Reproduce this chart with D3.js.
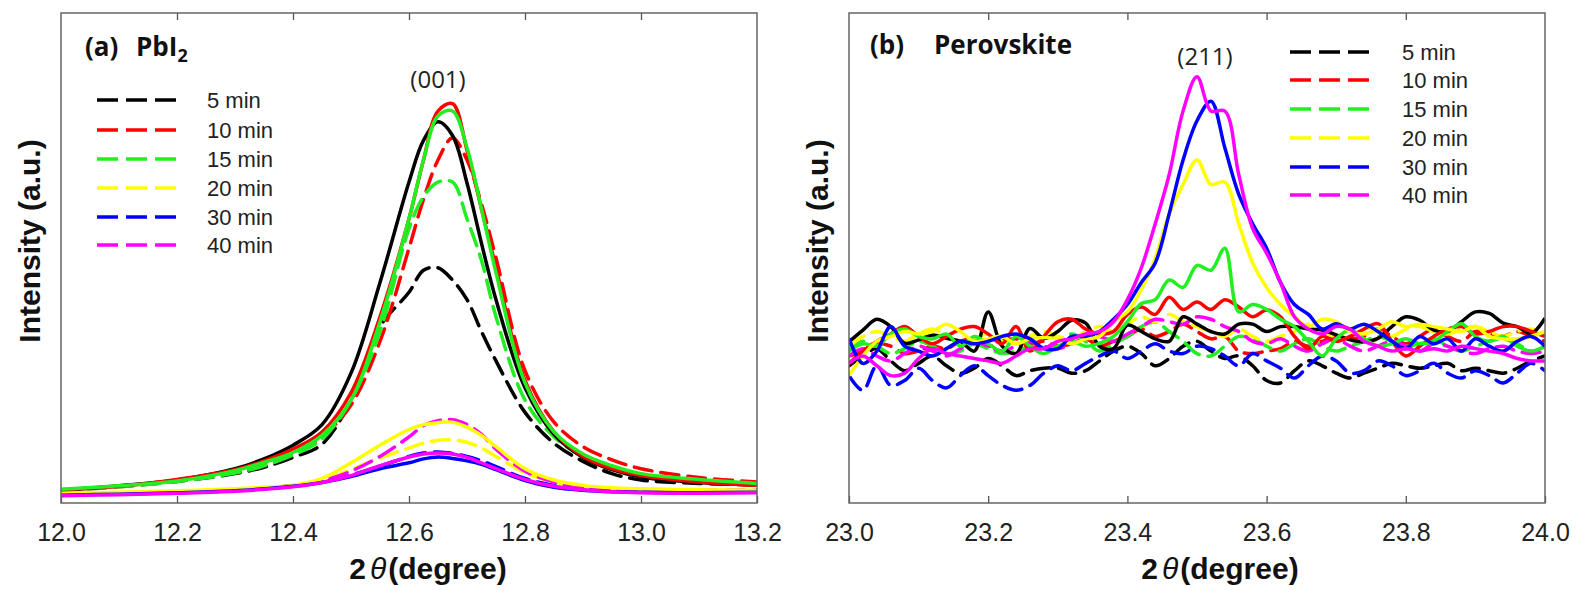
<!DOCTYPE html>
<html><head><meta charset="utf-8">
<script src="https://cdn.jsdelivr.net/npm/d3@7"></script>
<style>body{margin:0;background:#fff}svg{display:block}</style>
</head><body><svg id="c" width="1577" height="590"></svg>
<script>
// ---------- data ----------
const seriesNames  = ["5 min","10 min","15 min","20 min","30 min","40 min"];
const seriesColors = ["#000000","#ff0000","#22ee22","#ffff00","#0000ff","#ff00ff"];

// Panel (a) PbI2, 2theta grid
const pbX = [12.0,12.1,12.2,12.3,12.35,12.4,12.45,12.5,12.55,12.6,12.625,12.65,12.675,12.7,12.725,12.75,12.8,12.85,12.9,12.95,13.0,13.1,13.2];
const pbTicks = [12.0,12.2,12.4,12.6,12.8,13.0,13.2];
const pbSolid5  = [2.6,3.5,4.7,7.0,9.0,11.8,16,26.5,45,65.5,74,77.8,75,65.3,53,41.5,23.5,14,9.3,6.8,5.3,4.2,3.7];
const pbSolid10 = [2.7,3.4,4.8,6.8,8.6,11,14.5,22.5,38,58,70,80,81.5,72,60,48,25,14.5,9.5,7,5.6,4.3,3.6];
const pbSolid15 = [2.8,3.5,4.5,6.6,8.3,10.3,13.8,21,37,58,70,79,80,72.5,60,47,24.5,14.5,10,7.6,6,4.8,4.0];
const pbSolid20 = [2.0,2.2,2.5,2.9,3.2,3.6,5,8.2,11.8,15,16,16.4,16.5,15.5,13.8,11.5,7,4.7,3.6,3.1,2.9,2.7,2.6];
const pbSolid30 = [1.6,1.8,2.1,2.5,2.9,3.4,4.2,5.4,7.0,8.2,9.0,9.4,9.1,8.6,7.9,6.8,4.6,3.2,2.6,2.3,2.2,2.1,2.2];
const pbSolid40 = [1.5,1.7,2.0,2.4,2.8,3.3,4.2,5.6,7.6,9.4,10,10.2,10,9.3,8.2,7.0,4.8,3.4,2.7,2.3,2.1,2.0,2.1];
const pbDash5   = [2.6,3.4,4.4,6.0,7.3,9.3,12,21,36,43,47.5,48,45.5,41.5,35,29,18.5,12.2,8.5,6,4.7,4.0,3.7];
const pbDash10  = [2.6,3.3,4.5,6.3,8.0,10.2,13.5,20,33,52,62,70,74.5,70,61,50,27,16.5,11.5,8.8,7.0,5.2,4.3];
const pbDash15  = [2.6,3.3,4.4,6.1,7.6,9.8,13,21,35,56,62.5,65.5,65.5,58,49.5,38,21,13.5,9.5,7.2,5.8,4.5,3.9];
const pbDash20  = [1.9,2.1,2.4,2.8,3.1,3.6,4.6,6.8,9.2,11.2,12.2,12.8,12.9,12.4,11.2,9.5,6.2,4.3,3.3,2.9,2.7,2.6,2.5];
const pbDash30  = [1.8,2.0,2.3,2.7,3.0,3.5,4.3,5.7,7.5,9.5,10.2,10.4,10.1,9.5,8.6,7.4,5.0,3.6,3.0,2.7,2.4,2.3,2.4];
const pbDash40  = [1.8,2.0,2.3,2.7,3.0,3.5,4.5,6.5,9.5,13.5,15.8,16.8,17,16,14,11,6.5,4.3,3.3,2.9,2.7,2.6,2.6];

// Panel (b) Perovskite, 2theta 23.00 .. 24.00 every 0.02
const pvX = [23.00,23.02,23.04,23.06,23.08,23.10,23.12,23.14,23.16,23.18,
             23.20,23.22,23.24,23.26,23.28,23.30,23.32,23.34,23.36,23.38,
             23.40,23.42,23.44,23.46,23.48,23.50,23.52,23.54,23.56,23.58,
             23.60,23.62,23.64,23.66,23.68,23.70,23.72,23.74,23.76,23.78,
             23.80,23.82,23.84,23.86,23.88,23.90,23.92,23.94,23.96,23.98,24.00];
const pvTicks = [23.0,23.2,23.4,23.6,23.8,24.0];
const pvSolid5  = [32.9,35.3,37.5,36,32.6,33.3,34.3,33.6,33,31, 39,32,30.5,35.6,33.6,35,37.3,36.7,32,31.5,
                   36.3,35,33.5,33,38,36.5,35,34.5,36.5,36.5, 35,36,36,35.5,35.3,34.3,33.3,32.9,33.6,36,
                   38,37.3,35.3,35,37,39,38.7,36.7,36,34.6, 37.7];
const pvSolid10 = [28.5,31,33,34.5,36,34,32.5,34,35.5,36, 34.5,32.5,36,31,34,37,37.5,35.5,34.5,35,
                   38.5,40,38.5,42,39.5,41,39.5,41.5,40,38, 39.4,38,34,31.5,34,33,34,35.5,36.6,33,
                   30,32,34,35.5,36,34.5,35,36,36,35, 34];
const pvSolid15 = [31,32.5,32,34.5,35.5,34,33.5,34.5,32,34, 32.5,31,34,32,30.5,32,33,32,32.6,34,
                   37,40.7,41.5,45.5,44,48.5,47.5,52,39,40.5, 39.5,37.5,36,33,30,33.5,35.3,33.5,32,32.5,
                   33.5,32.5,33,35,36.6,34,33,34,32,31, 32];
const pvSolid20 = [26,30,33,34,35,34.5,35,36.5,35,33, 33.5,34,32.5,33.5,33.8,33.5,32.5,33.5,34,37,
                   39,43.5,50,59,65,70,65,65.5,57,49, 44,40.5,38,36,37.5,37,35,34.5,35.5,37,
                   36,36.5,36,35.5,35,36,34,33.5,33.5,34, 35];
const pvSolid30 = [33.6,28.5,31,36,32,31,30,31.5,33,32.5, 33,34,34.5,33.5,31.5,31.5,34,34,35,37.5,
                   40.5,45,49,59,70,78,82,72.5,63,57, 52,45,40.5,38.5,35.5,36.6,35.5,36.5,35,33,
                   31.5,34,32.5,33.5,31,33.5,32,31,33,34, 32];
const pvSolid40 = [28.5,30,28,26,26.5,29.5,31.5,30.5,30,29.5, 29,28.5,30,31.5,31.5,33,33.5,34.5,35,37,
                   41.5,48,57,67,80,87,80,80,67,56, 51,45,38,35.5,34.5,36,35.5,33,32,31,
                   31.5,31,31.5,31,32,31.5,31,30.5,29.5,29, 29];
const pvDash5   = [28,30,31.5,29,27,28.5,30,28,26.5,27.5, 29.5,28,26,27,27.5,27.5,26.5,27,29,31,
                   32,30.5,28,29.5,32,33,31,29.5,30,28, 25,24.5,27,29,28,26.5,25.5,26.5,27.5,28.5,
                   28,27.5,28,28.5,27,27.5,27,26.5,27.5,29, 30];
const pvDash10  = [30,31,32.5,32,30.5,31,32,31.5,33,33.5, 32,33,33.5,32.5,33,32,32.5,33.5,32,33,
                   34,35.5,34,35,36.5,35,33.5,34,31,30.5, 31,31.5,33,32,33,34,33.5,34,35.5,34,
                   32.5,34,35.5,34,33,35,34.5,34,35,34, 33];
const pvDash15  = [31,33,32,30.5,31.5,33,32,30.5,31,32.5, 31.5,30.5,31,32,31.5,33,34.5,33,31,32.5,
                   34,36,37,35,33,30.5,30,32,34,33.5, 32,31,32.5,33.5,32,31,32,33,34,33,
                   32,32.5,33.5,32,31,32,33,33.5,32.5,31, 32];
const pvDash20  = [32,34,35,34,33,34.5,35.5,34,32.5,33.5, 34.5,33,32.5,34,35,34,33.5,35,36,35,
                   36.5,38,37,38.5,37,36,35,34,35.5,34, 33,34,35,36.5,35,34,35.5,36,35,34,
                   35.5,36,35,34.5,35.5,36,35,34,35,35.5, 34.5];
const pvDash30  = [26,23,28,24,25,27.5,25,23.5,26,28, 26,24,23,24,26.5,28,27,28.5,30,31,
                   29.5,31,32.5,31,30.5,32,31.5,30,28,30.5, 29,27.5,25.5,28,30,29,26.5,27,29,28,
                   26,27,28.5,26.5,25.5,27,26,24.5,26.5,28.5, 27];
const pvDash40  = [30,31.5,30,29,30.5,32,31,30,31.5,33, 32,31,32,33,32,31.5,32.5,33.5,34,33,
                   34.5,36,37.5,37,36.5,38,37.5,36,35,33, 32.5,33.5,32,31,32.5,33.5,32,31,32,33,
                   32,31,32.5,32,31,30.5,31.5,32,31,30.5, 31];

// ---------- drawing ----------
const svg = d3.select("#c");
const FONT = "'Liberation Sans', Arial, sans-serif";
const LABELFONT = "'Open Sans', 'Noto Sans', sans-serif";
const TOP = 13, BOT = 503;

const panels = [
  { id:"a", x0:61, x1:757, domain:[12.0,13.2], xs:pbX, ticks:pbTicks,
    solid:[pbSolid5,pbSolid10,pbSolid15,pbSolid20,pbSolid30,pbSolid40],
    dash:[pbDash5,pbDash10,pbDash15,pbDash20,pbDash30,pbDash40],
    curve:d3.curveCatmullRom.alpha(0.5), ylab:40, xtitle:428 },
  { id:"b", x0:849, x1:1545, domain:[23.0,24.0], xs:pvX, ticks:pvTicks,
    solid:[pvSolid5,pvSolid10,pvSolid15,pvSolid20,pvSolid30,pvSolid40],
    dash:[pvDash5,pvDash10,pvDash15,pvDash20,pvDash30,pvDash40],
    curve:d3.curveCatmullRom.alpha(0.5), ylab:828, xtitle:1220 }
];

panels.forEach(p => {
  const x = d3.scaleLinear().domain(p.domain).range([p.x0, p.x1]);
  const y = d3.scaleLinear().domain([0,100]).range([BOT, TOP]);
  const clipId = "clip" + p.id;
  svg.append("clipPath").attr("id", clipId).append("rect")
    .attr("x", p.x0).attr("y", TOP).attr("width", p.x1 - p.x0).attr("height", BOT - TOP);
  const g = svg.append("g").attr("clip-path", `url(#${clipId})`);
  const line = d3.line().x((d,i) => x(p.xs[i])).y(d => y(d)).curve(p.curve);
  p.dash.forEach((arr, k) => {
    g.append("path").attr("d", line(arr)).attr("fill","none")
      .attr("stroke", seriesColors[k]).attr("stroke-width", 3.5)
      .attr("stroke-dasharray", "18,9").attr("stroke-linecap","round");
  });
  p.solid.forEach((arr, k) => {
    g.append("path").attr("d", line(arr)).attr("fill","none")
      .attr("stroke", seriesColors[k]).attr("stroke-width", 3.5)
      .attr("stroke-linejoin","round");
  });

  // axes (inward ticks top and bottom)
  const bottom = svg.append("g").attr("transform", `translate(0,${BOT})`)
    .call(d3.axisBottom(x).tickValues(p.ticks).tickFormat(d3.format(".1f"))
      .tickSizeInner(-7).tickSizeOuter(0).tickPadding(20));
  bottom.select(".domain").remove();
  bottom.selectAll("line").attr("stroke","#555").attr("stroke-width",1.3);
  bottom.selectAll("text").attr("font-family", FONT).attr("font-size", 25).attr("fill","#222");
  const top = svg.append("g").attr("transform", `translate(0,${TOP})`)
    .call(d3.axisTop(x).tickValues(p.ticks.slice(1,-1)).tickFormat("")
      .tickSizeInner(-7).tickSizeOuter(0));
  top.select(".domain").remove();
  top.selectAll("line").attr("stroke","#555").attr("stroke-width",1.3);

  // frame
  svg.append("rect").attr("x", p.x0).attr("y", TOP).attr("width", p.x1 - p.x0).attr("height", BOT - TOP)
    .attr("fill","none").attr("stroke","#666").attr("stroke-width",1.5);

  // axis titles
  svg.append("text").attr("transform", `translate(${p.ylab},241) rotate(-90)`)
    .attr("text-anchor","middle").attr("font-family", FONT).attr("font-weight","bold")
    .attr("font-size", 30).attr("fill","#111").text("Intensity (a.u.)");
  const xt = svg.append("text").attr("x", p.xtitle).attr("y", 579).attr("text-anchor","middle")
    .attr("font-family", FONT).attr("font-weight","bold").attr("font-size", 30).attr("fill","#111");
  xt.append("tspan").text("2");
  xt.append("tspan").attr("dx", 4).attr("font-style","italic").attr("font-weight","normal").text("θ");
  xt.append("tspan").attr("dx", 2).text("(degree)");
});

// panel labels
const la = svg.append("text").attr("x",85).attr("y",56).attr("font-family",LABELFONT)
  .attr("font-weight","bold").attr("font-size",26).attr("fill","#111");
la.append("tspan").text("(a)");
la.append("tspan").attr("x",136).text("PbI");
la.append("tspan").attr("dy",6).attr("font-size",18).text("2");
const lb = svg.append("text").attr("x",870).attr("y",54).attr("font-family",LABELFONT)
  .attr("font-weight","bold").attr("font-size",26).attr("fill","#111");
lb.append("tspan").text("(b)");
lb.append("tspan").attr("x",934).text("Perovskite");

// peak labels
svg.append("text").attr("x",438).attr("y",88).attr("text-anchor","middle")
  .attr("font-family",LABELFONT).attr("font-size",24).attr("fill","#222").text("(001)");
svg.append("text").attr("x",1205).attr("y",65).attr("text-anchor","middle")
  .attr("font-family",LABELFONT).attr("font-size",24).attr("fill","#222").text("(211)");

// legends
const legends = [
  { x0:97, x1:177, tx:207, rows:[100,130,159,188,217,245] },
  { x0:1290, x1:1370, tx:1402, rows:[52,80,109,138,167,195] }
];
legends.forEach(L => {
  seriesNames.forEach((name, k) => {
    svg.append("line").attr("x1",L.x0).attr("x2",L.x1).attr("y1",L.rows[k]).attr("y2",L.rows[k])
      .attr("stroke",seriesColors[k]).attr("stroke-width",3.5).attr("stroke-dasharray","21,8");
    svg.append("text").attr("x",L.tx).attr("y",L.rows[k]+8).attr("font-family",FONT)
      .attr("font-size",22).attr("fill","#222").text(name);
  });
});
</script></body></html>
